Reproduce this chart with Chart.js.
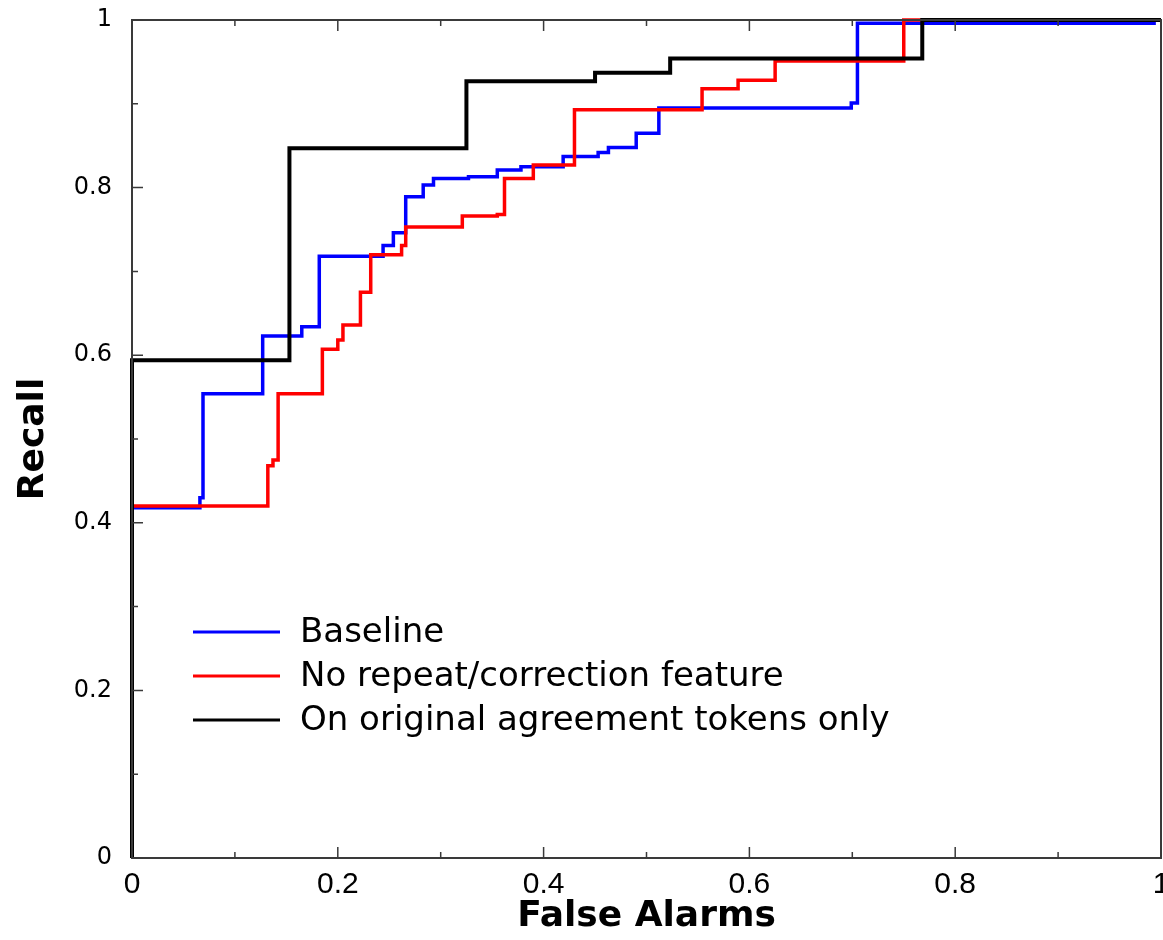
<!DOCTYPE html>
<html>
<head>
<meta charset="utf-8">
<script src="https://cdn.jsdelivr.net/npm/chart.js@4/dist/chart.umd.min.js"></script>
<style>
  html, body { margin: 0; padding: 0; background: #fff; }
  #wrap { width: 1163px; height: 940px; }
</style>
</head>
<body>
<div id="wrap"><canvas id="roc"></canvas></div>
<script>
// step points: (false alarm where the step rises, recall after it)
var baselineX = [0, 0, 0.066, 0.069, 0.127, 0.165, 0.182, 0.244, 0.254, 0.266, 0.283, 0.293, 0.327, 0.355, 0.378, 0.419, 0.453, 0.463, 0.490, 0.512, 0.699, 0.705, 0.995];
var baselineY = [0, 0.418, 0.430, 0.554, 0.623, 0.634, 0.718, 0.731, 0.746, 0.789, 0.803, 0.811, 0.813, 0.821, 0.825, 0.837, 0.842, 0.848, 0.865, 0.895, 0.901, 0.996, 0.996];

var noRepeatX = [0, 0, 0.132, 0.137, 0.142, 0.185, 0.200, 0.205, 0.222, 0.232, 0.262, 0.266, 0.321, 0.355, 0.362, 0.390, 0.430, 0.554, 0.589, 0.625, 0.750, 1.0];
var noRepeatY = [0, 0.420, 0.468, 0.475, 0.554, 0.607, 0.618, 0.636, 0.675, 0.720, 0.731, 0.753, 0.766, 0.768, 0.811, 0.827, 0.893, 0.918, 0.928, 0.951, 1.0, 1.0];

var originalX = [0, 0, 0.153, 0.325, 0.450, 0.523, 0.768, 1.0];
var originalY = [0, 0.594, 0.847, 0.927, 0.937, 0.954, 1.0, 1.0];

var seriesNames = ['Baseline', 'No repeat/correction feature', 'On original agreement tokens only'];
var majorTicks = [0, 0.2, 0.4, 0.6, 0.8, 1];
var minorTicks = [0.1, 0.3, 0.5, 0.7, 0.9];

function toPoints(xs, ys) {
    return xs.map(function(x, i) { return { x: x, y: ys[i] }; });
}

function stepSet(label, xs, ys, color, width, order) {
    return {
        label: label,
        data: toPoints(xs, ys),
        borderColor: color,
        backgroundColor: color,
        borderWidth: width,
        showLine: true,
        stepped: 'before',
        pointRadius: 0,
        borderJoinStyle: 'miter',
        clip: false,
        order: order
    };
}

function tickText(value) {
    return String(+value.toFixed(1));
}

// fixed box sizes, no extra room for the end labels
function fitBox(size, key) {
    return function(scale) {
        scale[key] = size;
        scale.paddingLeft = 0;
        scale.paddingRight = 0;
        scale.paddingTop = 0;
        scale.paddingBottom = 0;
    };
}

// frame with inward ticks
var framePlugin = {
    id: 'frame',
    afterDatasetsDraw: function(chart) {
        var ctx = chart.ctx, a = chart.chartArea;
        var xs = chart.scales.x, ys = chart.scales.y;
        ctx.save();
        ctx.strokeStyle = '#3a3a3a';
        ctx.lineWidth = 2;
        ctx.strokeRect(a.left, a.top, a.right - a.left, a.bottom - a.top);
        ctx.lineWidth = 1.5;
        ctx.beginPath();
        function ticks(list, len) {
            list.forEach(function(v) {
                var px = xs.getPixelForValue(v);
                ctx.moveTo(px, a.bottom); ctx.lineTo(px, a.bottom - len);
                ctx.moveTo(px, a.top); ctx.lineTo(px, a.top + len);
                var py = ys.getPixelForValue(v);
                ctx.moveTo(a.left, py); ctx.lineTo(a.left + len, py);
            });
        }
        ticks(majorTicks, 11);
        ticks(minorTicks, 6);
        ctx.stroke();
        ctx.restore();
    }
};

// legend inside the plot, lower left
var legendPlugin = {
    id: 'insideLegend',
    afterDraw: function(chart) {
        var ctx = chart.ctx, a = chart.chartArea;
        ctx.save();
        ctx.font = '34px "DejaVu Sans"';
        ctx.textBaseline = 'middle';
        ctx.fillStyle = '#000';
        chart.data.datasets.forEach(function(ds, i) {
            var y = a.top + 612 + i * 44;
            ctx.strokeStyle = ds.borderColor;
            ctx.lineWidth = 3;
            ctx.beginPath();
            ctx.moveTo(a.left + 61, y);
            ctx.lineTo(a.left + 148, y);
            ctx.stroke();
            ctx.fillText(ds.label, a.left + 168, y + 1);
        });
        ctx.restore();
    }
};

new Chart(document.getElementById('roc'), {
    type: 'scatter',
    data: {
        datasets: [
            stepSet(seriesNames[0], baselineX, baselineY, '#0000ff', 3.5, 3),
            stepSet(seriesNames[1], noRepeatX, noRepeatY, '#ff0000', 3.5, 2),
            stepSet(seriesNames[2], originalX, originalY, '#000000', 4, 1)
        ]
    },
    options: {
        responsive: true,
        maintainAspectRatio: false,
        animation: false,
        layout: { padding: { top: 20, right: 2, left: 0, bottom: 0 } },
        plugins: {
            legend: { display: false },
            tooltip: { enabled: false }
        },
        scales: {
            x: {
                type: 'linear',
                min: 0, max: 1,
                grid: { display: false, drawTicks: false },
                border: { display: false },
                ticks: {
                    stepSize: 0.2,
                    padding: 9,
                    color: '#000',
                    maxRotation: 0,
                    autoSkip: false,
                    callback: tickText,
                    font: { family: '"Liberation Sans", Arial, sans-serif', size: 30 }
                },
                title: {
                    display: true,
                    text: 'False Alarms',
                    color: '#000',
                    padding: { top: 0, bottom: 2 },
                    font: { family: '"DejaVu Sans"', size: 36, weight: 'bold' }
                },
                afterFit: fitBox(82, 'height')
            },
            y: {
                type: 'linear',
                min: 0, max: 1,
                grid: { display: false, drawTicks: false },
                border: { display: false },
                ticks: {
                    stepSize: 0.2,
                    padding: 20,
                    color: '#000',
                    callback: tickText,
                    font: { family: '"DejaVu Sans"', size: 24 }
                },
                title: {
                    display: true,
                    text: 'Recall',
                    color: '#000',
                    padding: { top: 12, bottom: 0 },
                    font: { family: '"DejaVu Sans"', size: 36, weight: 'bold' }
                },
                afterFit: fitBox(132, 'width')
            }
        }
    },
    plugins: [framePlugin, legendPlugin]
});
</script>
</body>
</html>
